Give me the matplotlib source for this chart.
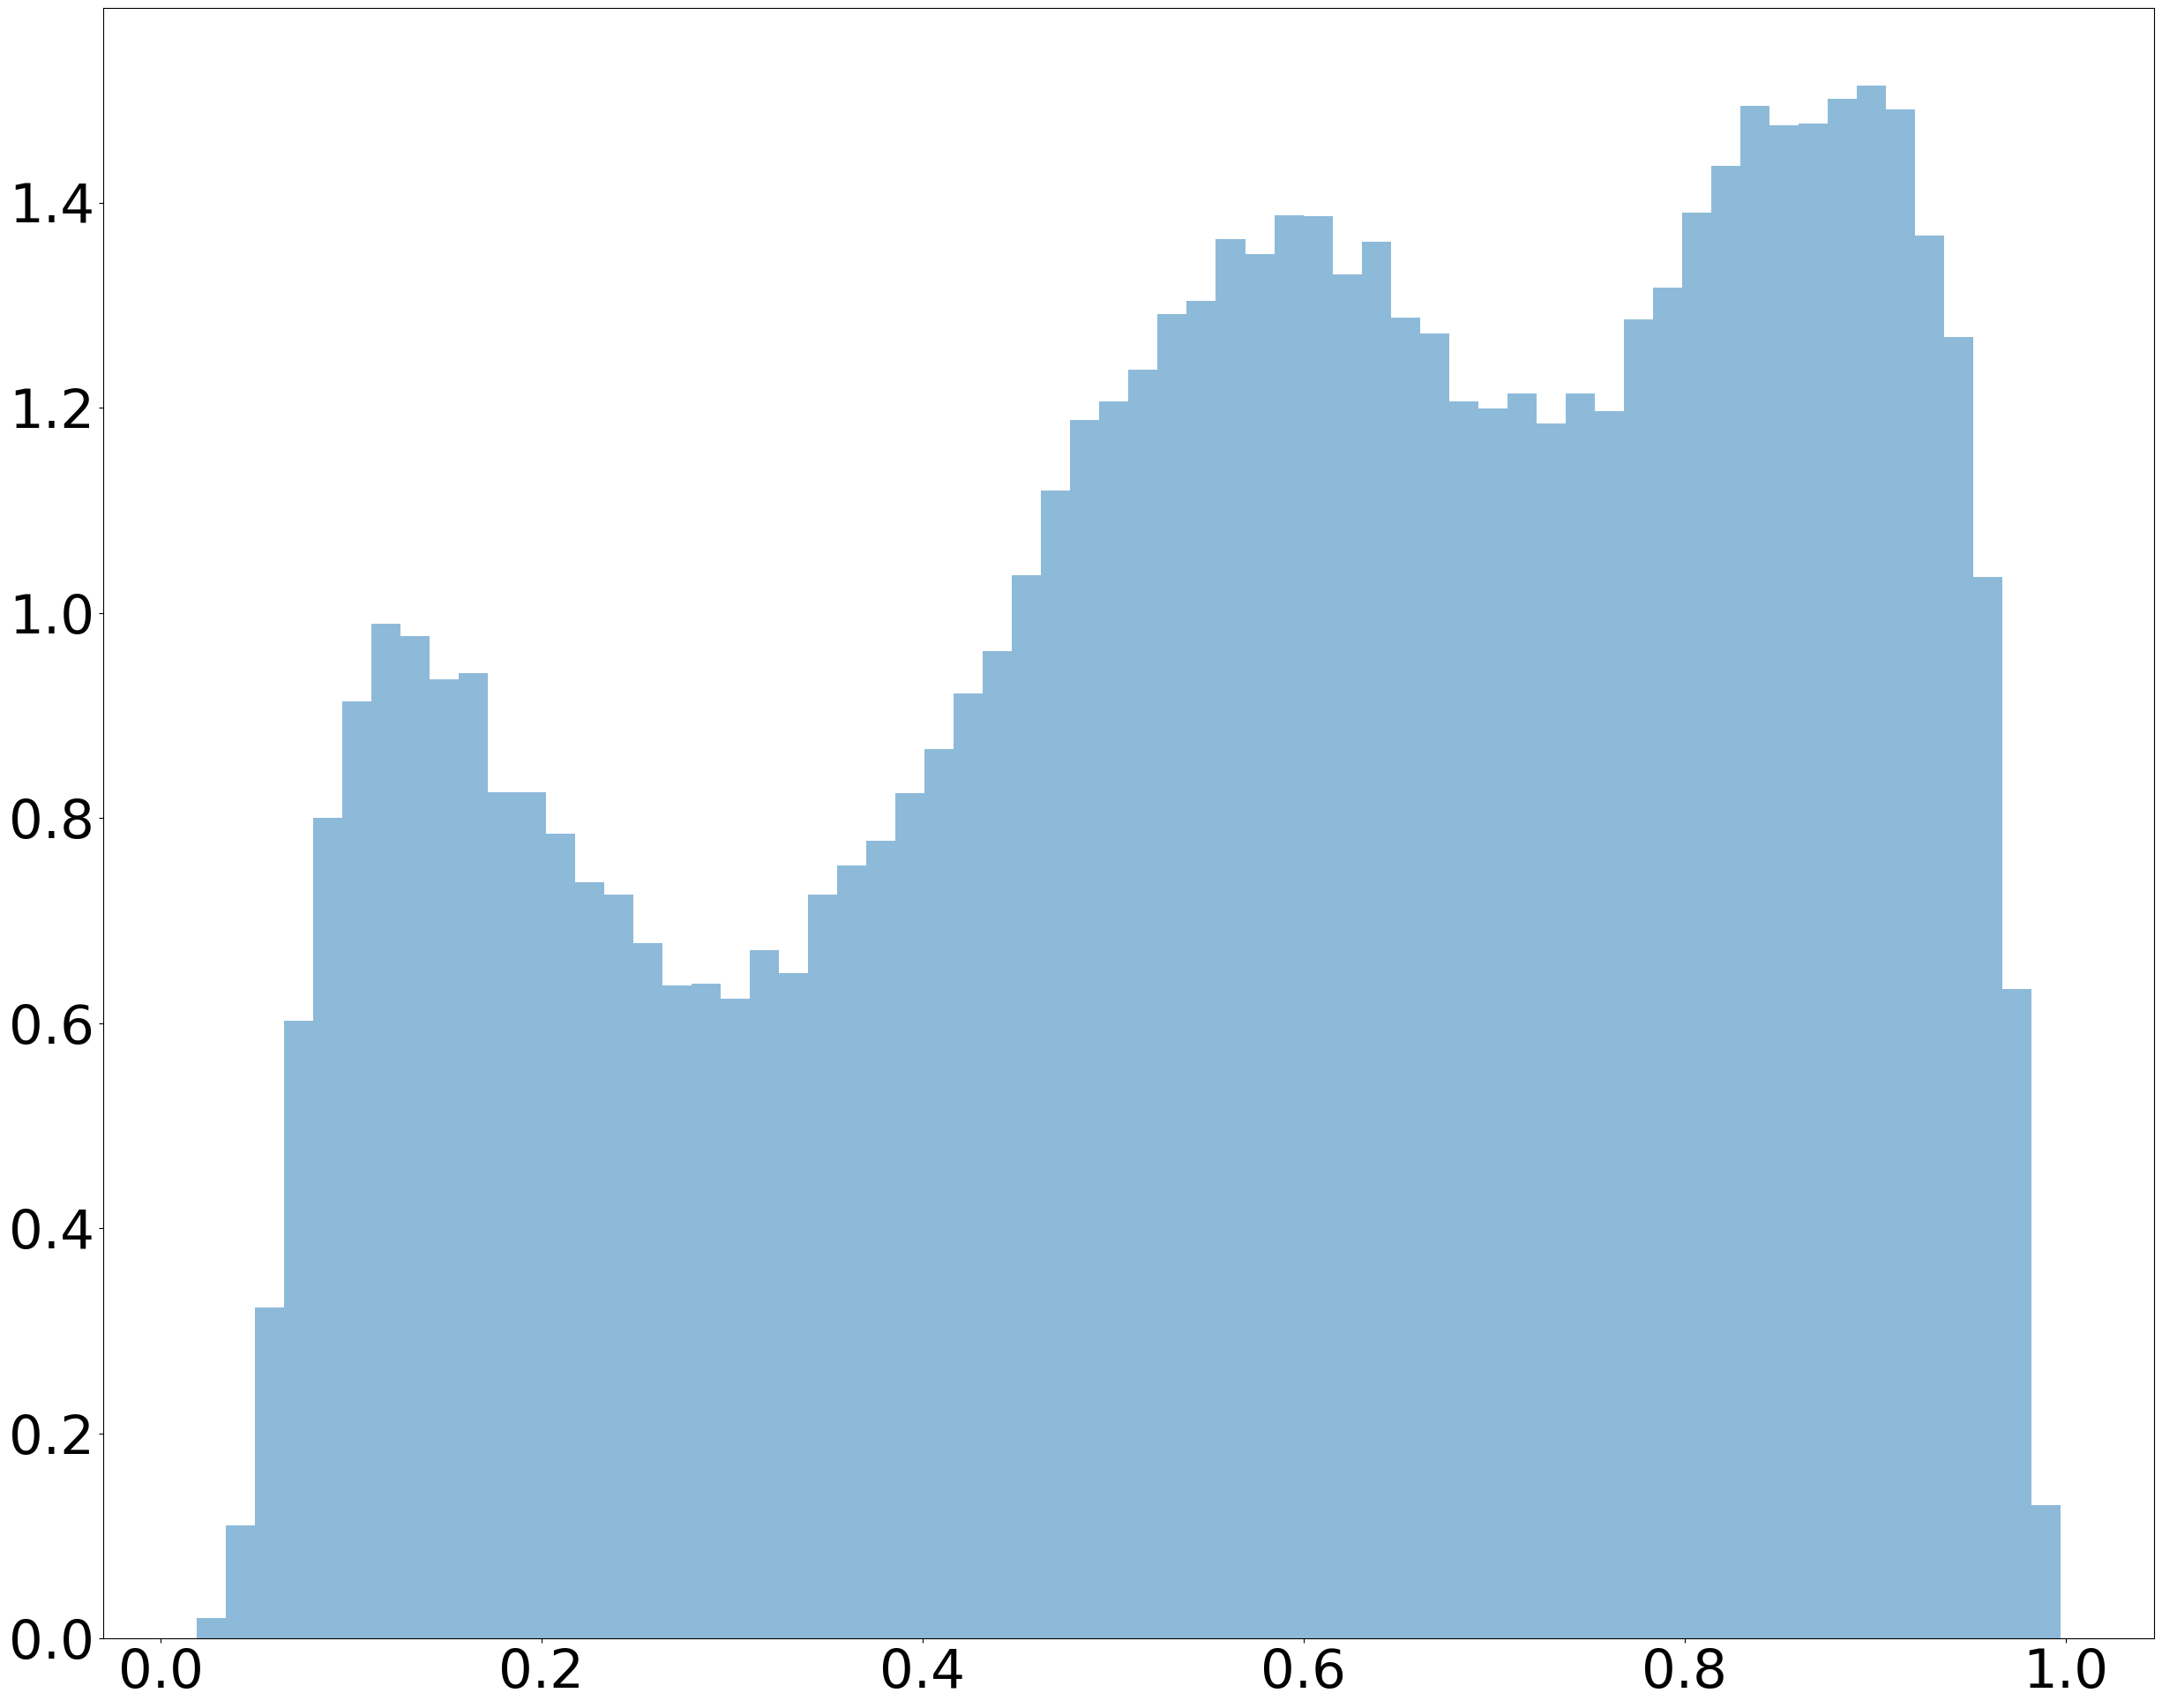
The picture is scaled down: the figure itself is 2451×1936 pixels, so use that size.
import numpy as np
import matplotlib
matplotlib.use('Agg')
import matplotlib.pyplot as plt

# density of each of the 64 bins
heights = [
    0.020, 0.110, 0.323, 0.602, 0.800, 0.914, 0.989, 0.977,
    0.935, 0.941, 0.825, 0.825, 0.785, 0.737, 0.725, 0.678,
    0.637, 0.638, 0.624, 0.671, 0.649, 0.725, 0.754, 0.778,
    0.824, 0.867, 0.921, 0.963, 1.037, 1.119, 1.188, 1.206,
    1.237, 1.291, 1.304, 1.364, 1.350, 1.388, 1.387, 1.330,
    1.362, 1.288, 1.272, 1.206, 1.199, 1.214, 1.185, 1.214,
    1.197, 1.286, 1.317, 1.390, 1.436, 1.494, 1.475, 1.477,
    1.501, 1.514, 1.491, 1.368, 1.269, 1.035, 0.633, 0.130,
]
x_min = 0.0188
x_max = 0.9975

edges = np.linspace(x_min, x_max, len(heights) + 1)

fig = plt.figure(figsize=(24.51, 19.36), dpi=100)
ax = fig.add_axes([0.0477, 0.0408, 0.9486, 0.9545])

ax.hist(edges[:-1], bins=edges, weights=heights, alpha=0.5)

ax.tick_params(labelsize=44)

fig.savefig('out.png', dpi=100)
